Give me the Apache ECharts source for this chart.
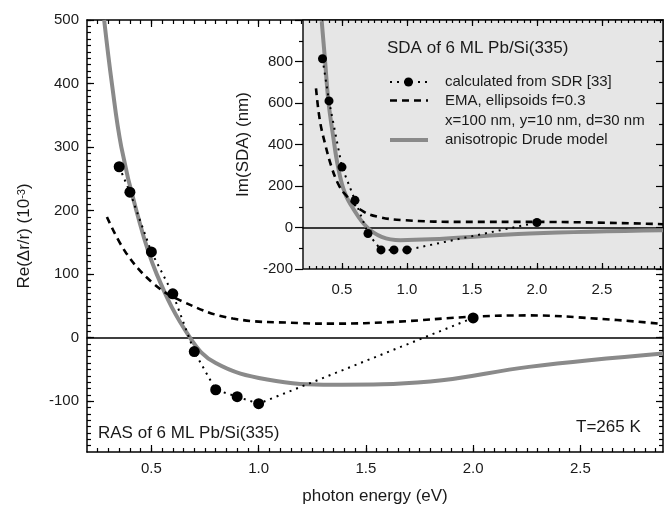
<!DOCTYPE html>
<html>
<head>
<meta charset="utf-8">
<script src="https://cdn.jsdelivr.net/npm/echarts@6/dist/echarts.min.js"></script>
<style>
html, body { margin: 0; padding: 0; background: #fff; }
#chart { width: 665px; height: 506px; }
</style>
</head>
<body>
<div id="chart"></div>
<script>
// RAS main panel, Re(dr/r) in 10^-3
var rasSdrX = [0.35, 0.4, 0.5, 0.6, 0.7, 0.8, 0.9, 1.0, 2.0];
var rasSdrY = [269, 229, 135, 69, -22, -82, -93, -104, 31];
var rasEmaX = [0.293, 0.383, 0.507, 0.632, 0.88, 1.19, 1.345, 1.642, 1.996, 2.264, 2.575, 2.87];
var rasEmaY = [190, 133, 86, 59, 30, 23, 22, 25, 33, 35, 30, 22];
var rasDrudeX = [0.28, 0.316, 0.36, 0.43, 0.525, 0.68, 0.80, 1.04, 1.35, 1.80, 2.26, 2.885];
var rasDrudeY = [500, 400, 300, 200, 100, 0, -40, -66, -74, -69, -46, -25];

// SDA inset, Im(SDA) in nm
var sdaSdrX = [0.35, 0.4, 0.5, 0.6, 0.7, 0.8, 0.9, 1.0, 2.0];
var sdaSdrY = [813, 610, 291, 131, -29, -108, -108, -108, 24];
var sdaEmaX = [0.30, 0.33, 0.37, 0.42, 0.47, 0.52, 0.65, 0.78, 0.985, 1.43, 2.0, 2.97];
var sdaEmaY = [671, 515, 403, 291, 211, 163, 83, 51, 35, 27, 27, 16];
var sdaDrudeX = [0.344, 0.37, 0.395, 0.433, 0.47, 0.52, 0.587, 0.69, 0.805, 0.95, 1.18, 1.946, 2.97];
var sdaDrudeY = [994, 802, 611, 435, 291, 170, 90, 3, -45, -61, -57, -29, -13];

// tick labels
var mainXLabels = [0.5, 1.0, 1.5, 2.0, 2.5];
var mainYLabels = [-100, 0, 100, 200, 300, 400, 500];
var insetXLabels = [0.5, 1.0, 1.5, 2.0, 2.5];
var insetYLabels = [-200, 0, 200, 400, 600, 800];
var insetYMajor = [-200, 0, 200, 400, 600, 800, 1000];

var FONT = 'Liberation Sans, Arial, Helvetica, sans-serif';
var TXT = '#1a1a1a';
var GRAY = '#8a8a8a';

var xMain = [0.2, 2.885];
var yMain = [-180, 500];
var xIns = [0.2, 2.97];
var yIns = [-200, 1000];

function pairs(xs, ys) {
	return xs.map(function (x, i) { return [x, ys[i]]; });
}

function steps(a, b, d) {
	var out = [];
	for (var v = a; v <= b + d / 2; v += d) {
		out.push(Math.round(v * 1000) / 1000);
	}
	return out;
}

function axis(grid, pos, ext, ticks, len, inside, line, labels, margin) {
	var ax = {
		type: 'value', gridIndex: grid, position: pos, min: ext[0], max: ext[1],
		axisLine: { show: line, onZero: false, lineStyle: { color: '#000', width: 1.5 } },
		axisTick: { show: true, inside: inside, length: len, customValues: ticks,
			lineStyle: { color: '#000', width: 1.2 } },
		axisLabel: { show: false },
		splitLine: { show: false },
		z: grid == 1 ? 9 : 0
	};
	if (labels) {
		ax.axisLabel = {
			show: true, customValues: labels, margin: margin,
			fontSize: 15, fontFamily: FONT, color: TXT,
			formatter: function (v) { return (pos == 'bottom') ? v.toFixed(1) : String(v); }
		};
	}
	return ax;
}

// x axis drawn on y = 0 of its grid: the horizontal zero line
function zeroAxis(grid, ext, yIndex) {
	return {
		type: 'value', gridIndex: grid, min: ext[0], max: ext[1],
		axisLine: { show: true, onZero: true, onZeroAxisIndex: yIndex, lineStyle: { color: '#000', width: 1.5 } },
		axisTick: { show: false }, axisLabel: { show: false }, splitLine: { show: false },
		z: grid == 1 ? 9 : 0
	};
}

var xAxes = [
	axis(0, 'bottom', xMain, mainXLabels, 7, true, true, mainXLabels, 9),
	axis(0, 'bottom', xMain, steps(0.25, 2.85, 0.05), 4, true, false),
	axis(0, 'top', xMain, mainXLabels, 7, true, true),
	axis(0, 'top', xMain, steps(0.25, 2.85, 0.05), 4, true, false),
	axis(1, 'bottom', xIns, insetXLabels, 6, true, false, insetXLabels, 13),
	axis(1, 'bottom', xIns, steps(0.25, 2.95, 0.05), 3, true, false),
	axis(1, 'top', xIns, insetXLabels, 6, true, false),
	axis(1, 'top', xIns, steps(0.25, 2.95, 0.05), 3, true, false),
	zeroAxis(0, xMain, 0),
	zeroAxis(1, xIns, 4)
];
xAxes[0].name = 'photon energy (eV)';
xAxes[0].nameLocation = 'middle';
xAxes[0].nameGap = 36;
xAxes[0].nameTextStyle = { fontSize: 17, fontFamily: FONT, color: TXT };

var yAxes = [
	axis(0, 'left', yMain, mainYLabels, 7, true, true, mainYLabels, 8),
	axis(0, 'left', yMain, steps(-170, 500, 10), 4, true, false),
	axis(0, 'right', yMain, mainYLabels, 7, true, true),
	axis(0, 'right', yMain, steps(-170, 500, 10), 4, true, false),
	axis(1, 'left', yIns, insetYMajor, 8, false, false, insetYLabels, 10),
	axis(1, 'left', yIns, steps(-100, 900, 200), 4, false, false),
	axis(1, 'right', yIns, insetYMajor, 7, true, false),
	axis(1, 'right', yIns, steps(-100, 900, 200), 4, true, false)
];
yAxes[0].name = 'Re(\u0394r/r) (10{sup|-3})';
yAxes[0].nameLocation = 'middle';
yAxes[0].nameRotate = 90;
yAxes[0].nameGap = 54;
yAxes[0].nameTextStyle = { fontSize: 17, fontFamily: FONT, color: TXT,
	rich: { sup: { fontSize: 11, fontFamily: FONT, color: TXT, verticalAlign: 'top' } } };
yAxes[4].name = 'Im(SDA) (nm)';
yAxes[4].nameLocation = 'middle';
yAxes[4].nameRotate = 90;
yAxes[4].nameGap = 48;
yAxes[4].nameTextStyle = { fontSize: 17, fontFamily: FONT, color: TXT };

function sdr(data, xi, yi, size, z) {
	return {
		type: 'line', xAxisIndex: xi, yAxisIndex: yi, data: data, z: z,
		symbol: 'circle', symbolSize: size, itemStyle: { color: '#000' },
		lineStyle: { color: '#000', width: 2, type: [2, 5] }
	};
}
function ema(data, xi, yi, z) {
	return {
		type: 'line', xAxisIndex: xi, yAxisIndex: yi, data: data, z: z,
		smooth: 0.4, symbol: 'none',
		lineStyle: { color: '#000', width: 2.6, type: [7, 5] }
	};
}
function drude(data, xi, yi, z) {
	return {
		type: 'line', xAxisIndex: xi, yAxisIndex: yi, data: data, z: z,
		smooth: 0.4, symbol: 'none',
		lineStyle: { color: GRAY, width: 4 }
	};
}

function label(text, x, y, size) {
	return { type: 'text', z: 20, style: { text: text, x: x, y: y, verticalAlign: 'middle',
		fontSize: size, fontFamily: FONT, fill: TXT } };
}

var chart = echarts.init(document.getElementById('chart'));
chart.setOption({
	animation: false,
	backgroundColor: '#fff',
	grid: [
		{ left: 87, top: 20, width: 576, height: 432, show: false, outerBoundsMode: 'none' },
		{ left: 303, top: 20, width: 360, height: 249, show: true, z: 8, outerBoundsMode: 'none',
			backgroundColor: '#e6e6e6', borderColor: '#111', borderWidth: 1.5 }
	],
	xAxis: xAxes,
	yAxis: yAxes,
	series: [
		drude(pairs(rasDrudeX, rasDrudeY), 0, 0, 2),
		ema(pairs(rasEmaX, rasEmaY), 0, 0, 3),
		sdr(pairs(rasSdrX, rasSdrY), 0, 0, 11, 4),
		drude(pairs(sdaDrudeX, sdaDrudeY), 4, 4, 10),
		ema(pairs(sdaEmaX, sdaEmaY), 4, 4, 11),
		sdr(pairs(sdaSdrX, sdaSdrY), 4, 4, 9, 12)
	],
	graphic: [
		label('SDA of 6 ML Pb/Si(335)', 387, 48, 17),
		{ type: 'line', z: 20, shape: { x1: 390, y1: 82, x2: 427, y2: 82 }, style: { stroke: '#000', lineWidth: 2, lineDash: [2, 5] } },
		{ type: 'circle', z: 20, shape: { cx: 408.5, cy: 82, r: 4.5 }, style: { fill: '#000' } },
		label('calculated from SDR [33]', 445, 82, 15),
		{ type: 'line', z: 20, shape: { x1: 390, y1: 100.5, x2: 428, y2: 100.5 }, style: { stroke: '#000', lineWidth: 2.6, lineDash: [7, 5] } },
		label('EMA, ellipsoids f=0.3', 445, 100.5, 15),
		label('x=100 nm, y=10 nm, d=30 nm', 445, 120.5, 15),
		{ type: 'line', z: 20, shape: { x1: 390, y1: 140, x2: 428, y2: 140 }, style: { stroke: GRAY, lineWidth: 4 } },
		label('anisotropic Drude model', 445, 140, 15),
		label('RAS of 6 ML Pb/Si(335)', 98, 433, 17),
		label('T=265 K', 576, 427, 17)
	]
});
</script>
</body>
</html>
